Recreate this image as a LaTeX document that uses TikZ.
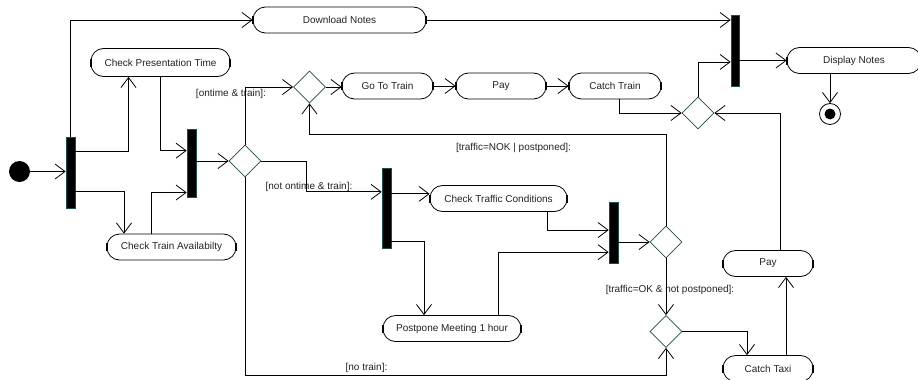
\documentclass[tikz,border=0pt]{standalone}
\usepackage{fontspec}
\setmainfont{Liberation Sans}
\usetikzlibrary{arrows.meta,shapes.geometric,calc}
\definecolor{ink}{HTML}{222222}
\definecolor{rim}{HTML}{1E4D4D}
\begin{document}
\begin{tikzpicture}[x=1pt,y=-1pt,
  font=\fontsize{10}{12}\selectfont,
  action/.style={draw, line width=0.8pt, rounded corners=12.5pt,
    minimum height=26pt, inner sep=0pt, text=ink},
  forkbar/.style={rectangle, fill=black, draw=rim, line width=0.6pt,
    minimum width=9pt, inner sep=0pt},
  decision/.style={diamond, aspect=1, draw=rim, fill=white, line width=0.8pt,
    minimum width=32pt, minimum height=32pt, inner sep=0pt},
  startnode/.style={circle, fill=black, minimum size=21pt, inner sep=0pt},
  endnode/.style={circle, draw, line width=0.8pt, fill=white, minimum size=21pt, inner sep=0pt},
  guard/.style={text=ink, inner sep=0pt},
  flow/.style={line width=0.8pt, -{Straight Barb[length=10pt,width=15pt]}},
  tick/.style={line width=2pt}]

\useasboundingbox (0,0) rectangle (918,380);

% initial / final states
\node[startnode] (S) at (19.5,171.5) {};
\node[endnode] (E) at (830,114) {};
\fill (E.center) circle (5.5pt);

% synchronisation bars
\node[forkbar, minimum height=71pt] (F1) at (70.5,172.5) {};
\node[forkbar, minimum height=68pt] (F2) at (191.5,163) {};
\node[forkbar, minimum width=8pt, minimum height=71pt] (F3) at (735,50.5) {};
\node[forkbar, minimum height=61pt] (F4) at (613.5,232.5) {};
\node[forkbar, minimum height=80pt] (F5) at (386.5,208) {};

% decisions
\node[decision] (D1) at (245,161) {};
\node[decision] (D2) at (309.5,87) {};
\node[decision] (D3) at (698,113) {};
\node[decision] (D4) at (666,242) {};
\node[decision] (D5) at (666,331.5) {};

% activities
\node[action, minimum width=173pt] (DL) at (339.5,20) {Download Notes};
\node[action, minimum width=139pt, minimum height=28pt] (CPT) at (160.5,62.5) {Check Presentation Time};
\node[action, minimum width=129pt] (CTA) at (171.5,247) {Check Train Availabilty};
\node[action, minimum width=91pt] (GTT) at (387.5,86) {Go To Train};
\node[action, minimum width=90pt] (PAYA) at (501,86) {Pay};
\node[action, minimum width=92pt] (CT) at (615,86) {Catch Train};
\node[action, minimum width=134pt] (DN) at (854,60.5) {Display Notes};
\node[action, minimum width=137pt] (CTC) at (498.5,198.5) {Check Traffic Conditions};
\node[action, minimum width=138pt] (PM) at (452,328.5) {Postpone Meeting 1 hour};
\node[action, minimum width=90pt] (PAYB) at (768,263.5) {Pay};
\node[action, minimum width=90pt] (CTX) at (768,368.5) {Catch Taxi};

% end ticks on the activities
\foreach \n in {DL,CPT,CTA,GTT,PAYA,CT,DN,CTC,PM,PAYB,CTX} {
  \draw[tick] ([yshift=4pt]\n.west) -- ([yshift=-4pt]\n.west);
  \draw[tick] ([yshift=4pt]\n.east) -- ([yshift=-4pt]\n.east);
}

% guards
\node[guard] (G1) at (231,94) {[ontime \& train]:};
\node[guard] (G2) at (309,187) {[not ontime \& train]:};
\node[guard] (G3) at (513.5,148) {[traffic=NOK | postponed]:};
\node[guard] (G4) at (670,290) {[traffic=OK \& not postponed]:};
\node[guard] (G5) at (366.5,368) {[no train]:};

% flows
\draw[flow] (S.east) -- (S.east -| F1.west);
\draw[flow] (F1.north) |- (DL.west);
\draw[flow] ($(F1.north east)!.21!(F1.south east)$) -| ([xshift=-32pt]CPT.south);
\draw[flow] ($(F1.north east)!.76!(F1.south east)$) -| ([xshift=-47.5pt]CTA.north);
\draw[flow] (CPT.south) |- ($(F2.north west)!.32!(F2.south west)$);
\draw[flow] ([xshift=-20.5pt]CTA.north) |- ($(F2.north west)!.93!(F2.south west)$);
\draw[flow] (D1.west -| F2.east) -- (D1.west);
\draw[flow] (D1.north) |- (D2.west);
\draw[flow] (D2.east) -- (D2.east -| GTT.west);
\draw[flow] (GTT.east) -- (PAYA.west);
\draw[flow] (PAYA.east) -- (CT.west);
\draw[flow] ([xshift=4pt]CT.south) |- (D3.west);
\draw[flow] (D3.north) |- ($(F3.north west)!.66!(F3.south west)$);
\draw[flow] (DL.east) -- (DL.east -| F3.west);
\draw[flow] (DN.west -| F3.east) -- (DN.west);
\draw[flow] (E.north |- DN.south) -- (E.north);
\draw[flow] (D1.east) -- ++(45,0) |- ($(F5.north west)!.3!(F5.south west)$);
\draw[flow] ($(F5.north east)!.325!(F5.south east)$) -- (CTC.west |- {$(F5.north east)!.325!(F5.south east)$});
\draw[flow] ($(F5.north east)!.91!(F5.south east)$) -| ([xshift=-28pt]PM.north);
\draw[flow] ([xshift=48.5pt]CTC.south) |- ($(F4.north west)!.46!(F4.south west)$);
\draw[flow] ([xshift=46pt]PM.north) |- ($(F4.north west)!.82!(F4.south west)$);
\draw[flow] (D4.west -| F4.east) -- (D4.west);
\draw[flow] (D4.north) -- ++(0,-91) -| (D2.south);
\draw[flow] (D4.south) -- (D5.north);
\draw[flow] (D5.east) -| ([xshift=-21pt]CTX.north);
\draw[flow] ([xshift=18pt]CTX.north) -- ([xshift=18pt]PAYB.south);
\draw[flow] ([xshift=12pt]PAYB.north) |- (D3.east);
\draw[flow] (D1.south) -- ++(0,198) -| (D5.south);
\end{tikzpicture}
\end{document}
